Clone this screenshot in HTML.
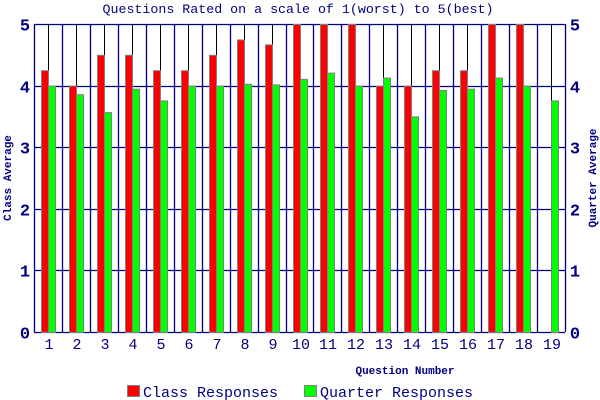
<!DOCTYPE html>
<html><head><meta charset="utf-8"><style>
html,body{margin:0;padding:0;background:#fff;width:600px;height:400px;overflow:hidden}
text{font-family:"Liberation Mono",monospace;fill:#000080}
</style></head><body>
<svg id="s" width="600" height="400" xmlns="http://www.w3.org/2000/svg">
<text x="298" y="13" font-size="13.3" text-anchor="middle">Questions Rated on a scale of 1(worst) to 5(best)</text>
<g id="g"></g>
<text x="11" y="178" font-size="11" font-weight="bold" text-anchor="middle" transform="rotate(-90 11 178)">Class Average</text>
<text x="596" y="178" font-size="11" font-weight="bold" text-anchor="middle" transform="rotate(-90 596 178)">Quarter Average</text>
<text x="405" y="374" font-size="11" font-weight="bold" text-anchor="middle">Question Number</text>
<rect x="127.5" y="385.5" width="12" height="11" fill="#ff0000" stroke="#808080"/>
<text x="143" y="397" font-size="15">Class Responses</text>
<rect x="304.5" y="385.5" width="12" height="11" fill="#00ff00" stroke="#808080"/>
<text x="320" y="397" font-size="15">Quarter Responses</text>
</svg>
<script>
var L=34,R=565,T=24,B=332,n=19,w=(R-L)/n,u=(B-T)/5;
var red=[4.25,4,4.5,4.5,4.25,4.25,4.5,4.75,4.67,5,5,5,4,4,4.25,4.25,5,5,null];
var grn=[4,3.86,3.57,3.95,3.76,4,4,4.03,4.02,4.11,4.21,4,4.13,3.5,3.93,3.95,4.13,4,3.76];
var h='';
for(var k=0;k<=5;k++){var y=Math.round(B-k*u)+0.5;
h+='<line x1="'+L+'" x2="'+R+'" y1="'+y+'" y2="'+y+'" stroke="#000080" stroke-width="1.3"/>';
h+='<text x="25" y="'+(y+6)+'" font-size="17" font-weight="bold" text-anchor="middle">'+k+'</text>';
h+='<text x="575" y="'+(y+6)+'" font-size="17" font-weight="bold" text-anchor="middle">'+k+'</text>';}
for(var i=0;i<=n;i++){var x=Math.round(L+i*w)+0.5;
h+='<line x1="'+x+'" x2="'+x+'" y1="'+T+'" y2="'+B+'" stroke="#000080" stroke-width="1.3"/>';}
for(var i=0;i<n;i++){var c=Math.round(L+(i+0.5)*w);
h+='<line x1="'+(c+0.5)+'" x2="'+(c+0.5)+'" y1="'+T+'" y2="'+B+'" stroke="#000" stroke-width="1"/>';
if(red[i]!=null){var y=B-red[i]*u;h+='<rect x="'+(c-7+0.5)+'" y="'+(y+0.5)+'" width="7" height="'+(B-y)+'" fill="#ff0000" stroke="#808080"/>';}
var y2=B-grn[i]*u;h+='<rect x="'+(c+0.5)+'" y="'+(y2+0.5)+'" width="7" height="'+(B-y2)+'" fill="#00ff00" stroke="#808080"/>';
h+='<text x="'+(c+1)+'" y="349" font-size="15" text-anchor="middle">'+(i+1)+'</text>';}
document.getElementById('g').innerHTML=h;
</script>
</body></html>
